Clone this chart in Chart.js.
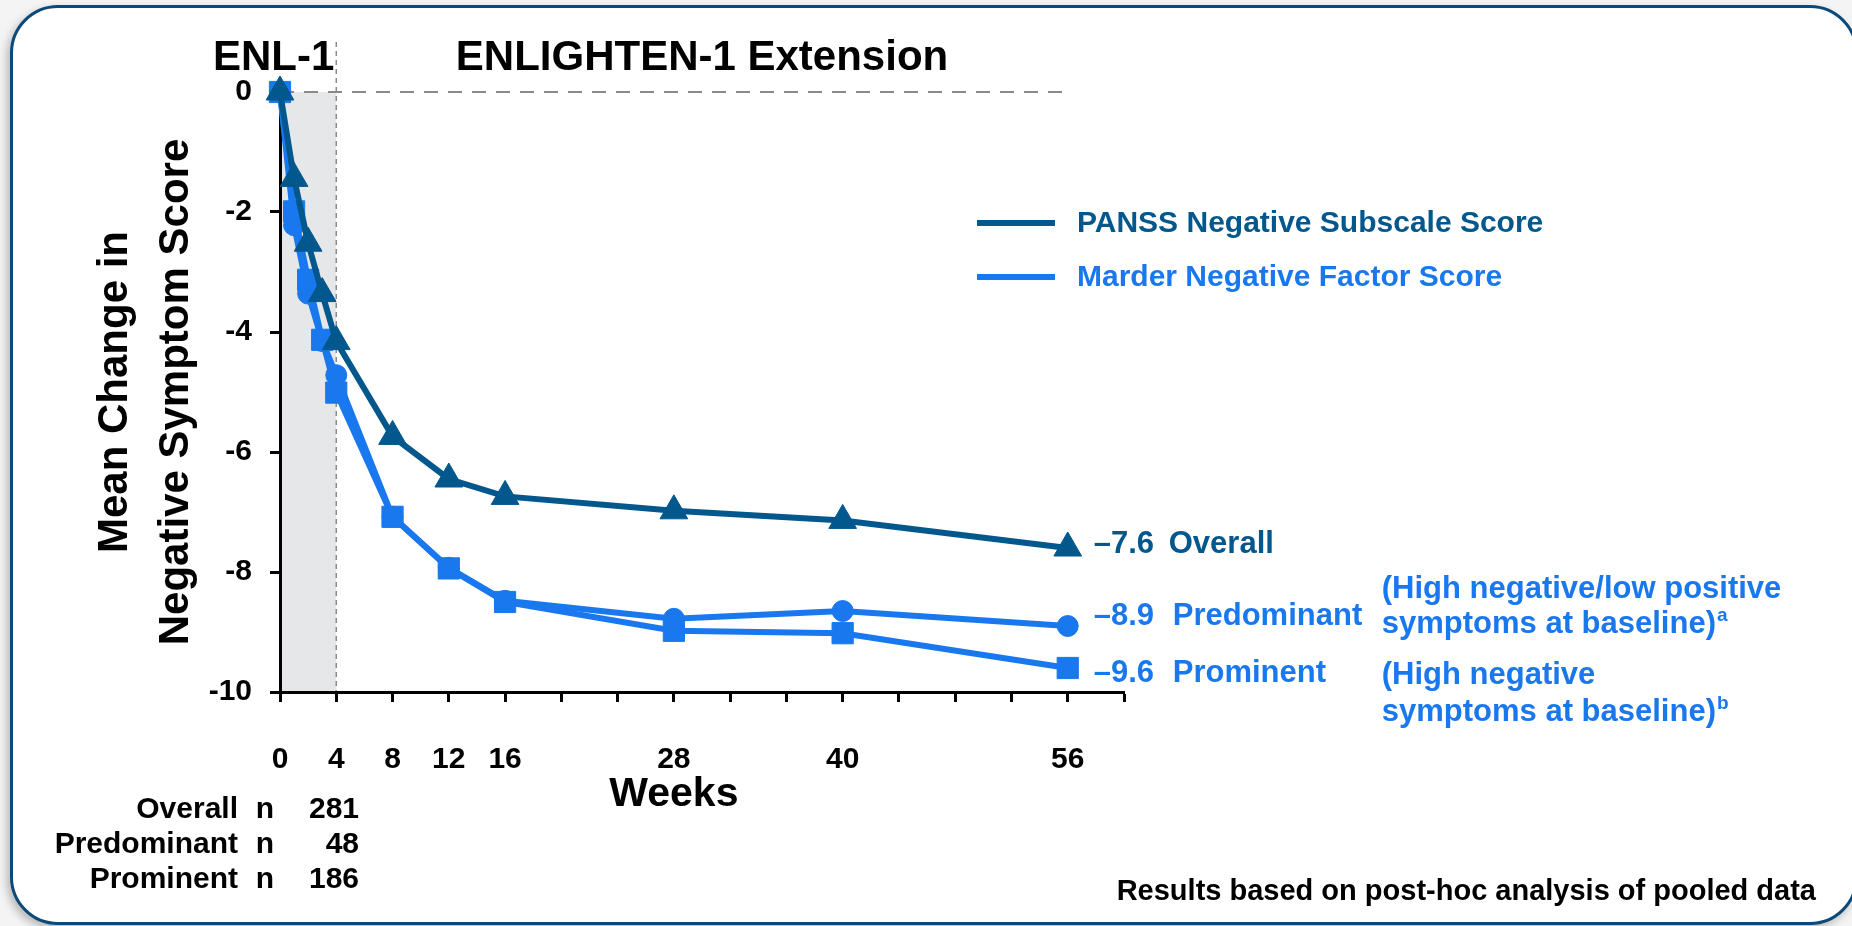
<!DOCTYPE html>
<html>
<head>
<meta charset="utf-8">
<title>Mean Change in Negative Symptom Score</title>
<script src="https://cdn.jsdelivr.net/npm/chart.js@4.4.1/dist/chart.umd.min.js"></script>
<style>
  html, body { margin: 0; padding: 0; background: #f4f4f4; }
  body { width: 1852px; height: 926px; position: relative; overflow: hidden; }
  #frame {
    position: absolute; left: 10px; top: 5px; width: 1848px; height: 920px;
    box-sizing: border-box; border: 3px solid #0b4a78; border-radius: 48px;
    background: #fff; box-shadow: -3px 4px 8px rgba(0, 0, 0, 0.25);
  }
  #chart { position: absolute; left: 0; top: 0; }
</style>
</head>
<body>
<div id="frame"></div>
<canvas id="chart" width="1852" height="926"></canvas>
<script>
// data
const weeks = [0, 1, 2, 3, 4, 8, 12, 16, 28, 40, 56];
const panssOverall = [0, -1.44, -2.52, -3.36, -4.16, -5.74, -6.45, -6.74, -6.98, -7.14, -7.6];
const marderProminent = [0, -1.99, -3.13, -4.13, -5.01, -7.08, -7.94, -8.5, -8.98, -9.02, -9.6];
const marderPredominant = [0, -2.22, -3.36, -4.15, -4.72, -7.08, -7.93, -8.48, -8.78, -8.65, -8.9];
const weekTickLabels = [0, 4, 8, 12, 16, 28, 40, 56];

const groupNames = ["Overall", "Predominant", "Prominent"];
const groupN = [281, 48, 186];
const groupNotes = [[], ["(High negative/low positive", "symptoms at baseline)"], ["(High negative", "symptoms at baseline)"]];
const groupSup = ["", "a", "b"];
const legendItems = ["PANSS Negative Subscale Score", "Marder Negative Factor Score"];

const DARK = "#02578d";
const LIGHT = "#1a78ee";
const FONT = '"Liberation Sans", Arial, Helvetica, sans-serif';

Chart.defaults.font.family = FONT;

const toPoints = vals => weeks.map((w, i) => ({ x: w, y: vals[i] }));

function txt(ctx, s, x, y, size, color, align) {
  ctx.font = "bold " + size + "px " + FONT;
  ctx.fillStyle = color;
  ctx.textAlign = align || "left";
  ctx.textBaseline = "middle";
  ctx.fillText(s, x, y);
}

const extras = {
  id: "extras",
  beforeDraw(chart) {
    const { ctx, chartArea: a, scales: { x, y } } = chart;
    const x4 = x.getPixelForValue(4);
    ctx.save();
    // ENLIGHTEN-1 period shading
    ctx.fillStyle = "#e6e7e8";
    ctx.fillRect(a.left, a.top, x4 - a.left, a.bottom - a.top);
    ctx.strokeStyle = "#8a8a8a";
    ctx.lineWidth = 2;
    ctx.setLineDash([14, 10]);
    ctx.beginPath();
    ctx.moveTo(a.left, y.getPixelForValue(0));
    ctx.lineTo(x.getPixelForValue(56), y.getPixelForValue(0));
    ctx.stroke();
    ctx.lineWidth = 1.5;
    ctx.setLineDash([5, 4]);
    ctx.beginPath();
    ctx.moveTo(x4, a.top - 50);
    ctx.lineTo(x4, a.bottom);
    ctx.stroke();
    ctx.restore();
  },
  afterDraw(chart) {
    const { ctx, chartArea: a, scales: { x, y } } = chart;
    ctx.save();
    // phase headers
    txt(ctx, "ENL-1", x.getPixelForValue(4) - 2, a.top - 34, 42, "#000", "right");
    txt(ctx, "ENLIGHTEN-1 Extension", x.getPixelForValue(30), a.top - 34, 42, "#000", "center");
    txt(ctx, "Weeks", x.getPixelForValue(28), a.bottom + 103, 41, "#000", "center");

    // legend
    [DARK, LIGHT].forEach((c, i) => {
      const ly = a.top + 131 + i * 54;
      ctx.strokeStyle = c;
      ctx.lineWidth = 6;
      ctx.beginPath();
      ctx.moveTo(a.left + 697, ly);
      ctx.lineTo(a.left + 775, ly);
      ctx.stroke();
      txt(ctx, legendItems[i], a.left + 797, ly + 1, 30, c);
    });

    // end-of-line labels
    const xe = x.getPixelForValue(56);
    const ends = [panssOverall, marderPredominant, marderProminent].map(v => v[v.length - 1]);
    const offs = [-4, -10, 5];
    ends.forEach((v, i) => {
      const c = i === 0 ? DARK : LIGHT;
      const ly = y.getPixelForValue(v) + offs[i];
      txt(ctx, "\u2013" + Math.abs(v).toFixed(1), xe + 26, ly, 31, c);
      txt(ctx, groupNames[i], xe + (i === 0 ? 101 : 105), ly, 31, c);
      groupNotes[i].forEach((line, j) => {
        const ny = i === 1 ? ly - 27 + j * 35 : ly + 2 + j * 37;
        txt(ctx, line, xe + 314, ny, 31, c);
        if (j === groupNotes[i].length - 1) {
          ctx.font = "bold 31px " + FONT;
          const w = ctx.measureText(line).width;
          txt(ctx, groupSup[i], xe + 315 + w, ny - 8, 19, c);
        }
      });
    });

    // n table
    groupNames.forEach((g, i) => {
      const ty = 810 + i * 35;
      txt(ctx, g, a.left - 42, ty, 30, "#000", "right");
      txt(ctx, "n", a.left - 15, ty, 30, "#000", "center");
      txt(ctx, String(groupN[i]), a.left + 79, ty, 30, "#000", "right");
    });

    txt(ctx, "Results based on post-hoc analysis of pooled data", 1816, 892, 29, "#000", "right");
    ctx.restore();
  }
};

const tickFont = { size: 30, weight: "bold" };

new Chart(document.getElementById("chart").getContext("2d"), {
  type: "line",
  data: {
    datasets: [
      {
        label: "PANSS Negative Subscale Score (Overall)",
        data: toPoints(panssOverall),
        borderColor: DARK,
        backgroundColor: DARK,
        borderWidth: 6,
        pointStyle: "triangle",
        pointRadius: 16,
        pointBorderWidth: 1,
        tension: 0,
        clip: false
      },
      {
        label: "Marder Negative Factor Score (Prominent)",
        data: toPoints(marderProminent),
        borderColor: LIGHT,
        backgroundColor: LIGHT,
        borderWidth: 6,
        pointStyle: "rect",
        pointRadius: 15,
        pointBorderWidth: 1,
        tension: 0,
        clip: false
      },
      {
        label: "Marder Negative Factor Score (Predominant)",
        data: toPoints(marderPredominant),
        borderColor: LIGHT,
        backgroundColor: LIGHT,
        borderWidth: 6,
        pointStyle: "circle",
        pointRadius: 10.5,
        pointBorderWidth: 1,
        tension: 0,
        clip: false
      }
    ]
  },
  options: {
    responsive: false,
    animation: false,
    layout: { padding: { left: 0, top: 92, right: 728, bottom: 0 } },
    plugins: {
      legend: { display: false },
      tooltip: { enabled: false }
    },
    scales: {
      x: {
        type: "linear",
        min: 0,
        max: 60,
        afterFit: s => { s.height = 234; },
        ticks: {
          stepSize: 4,
          autoSkip: false,
          maxRotation: 0,
          minRotation: 0,
          padding: 40,
          color: "#000",
          font: tickFont,
          callback: v => (weekTickLabels.includes(v) ? String(v) : "")
        },
        grid: { drawOnChartArea: false, drawTicks: true, tickLength: 10, tickColor: "#000", tickWidth: 3 },
        border: { color: "#000", width: 3 }
      },
      y: {
        min: -10,
        max: 0,
        afterFit: s => { s.width = 280; },
        ticks: {
          stepSize: 2,
          padding: 18,
          color: "#000",
          font: tickFont,
          callback: v => String(v)
        },
        grid: { drawOnChartArea: false, drawTicks: true, tickLength: 10, tickColor: "#000", tickWidth: 3 },
        border: { color: "#000", width: 3 },
        title: {
          display: true,
          text: ["Mean Change in", "Negative Symptom Score"],
          color: "#000",
          font: { size: 42, weight: "bold", lineHeight: 1.45 },
          padding: { top: 85, bottom: 0 }
        }
      }
    }
  },
  plugins: [extras]
});
</script>
</body>
</html>
